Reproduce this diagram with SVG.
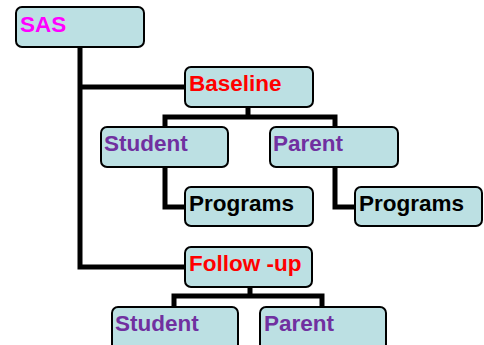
<svg xmlns="http://www.w3.org/2000/svg" width="484" height="345" viewBox="0 0 484 345">
<style>
.box{fill:#BCE0E3;stroke:#000;stroke-width:2}
.t{font-family:"Liberation Sans",Arial,sans-serif;font-weight:bold;font-size:22.5px}
.c{fill:none;stroke:#000;stroke-width:5;stroke-linejoin:miter}
</style>
<rect width="484" height="345" fill="#fff"/>
<g id="connectors">
<path class="c" d="M80,47 V267 H186"/>
<path class="c" d="M80,87 H186"/>
<path class="c" d="M248,107 V117"/>
<path class="c" d="M165,128 V117 H335 V128"/>
<path class="c" d="M165,167 V207 H186"/>
<path class="c" d="M335,167 V207 H356"/>
<path class="c" d="M250,287 V296"/>
<path class="c" d="M174,308 V296 H322 V308"/>
</g>
<g id="sas"><rect class="box" x="16" y="7" width="128" height="40" rx="6"/><text class="t" x="20" y="32" fill="#FF00FF">SAS</text></g>
<g id="baseline"><rect class="box" x="185" y="67" width="128" height="40" rx="6"/><text class="t" x="189" y="91" fill="#FF0000">Baseline</text></g>
<g id="student1"><rect class="box" x="101" y="127" width="127" height="40" rx="6"/><text class="t" x="104" y="151" fill="#7030A0">Student</text></g>
<g id="parent1"><rect class="box" x="270" y="127" width="128" height="40" rx="6"/><text class="t" x="273" y="151" fill="#7030A0">Parent</text></g>
<g id="programs1"><rect class="box" x="185" y="187" width="128" height="39" rx="6"/><text class="t" x="189" y="211" fill="#000">Programs</text></g>
<g id="programs2"><rect class="box" x="355" y="187" width="127" height="39" rx="6"/><text class="t" x="359" y="211" fill="#000">Programs</text></g>
<g id="followup"><rect class="box" x="185" y="247" width="127" height="40" rx="6"/><text class="t" x="189" y="271" fill="#FF0000">Follow -up</text></g>
<g id="student2"><rect class="box" x="112" y="307" width="126" height="50" rx="6"/><text class="t" x="115" y="331" fill="#7030A0">Student</text></g>
<g id="parent2"><rect class="box" x="260" y="307" width="126" height="50" rx="6"/><text class="t" x="264" y="331" fill="#7030A0">Parent</text></g>
</svg>
